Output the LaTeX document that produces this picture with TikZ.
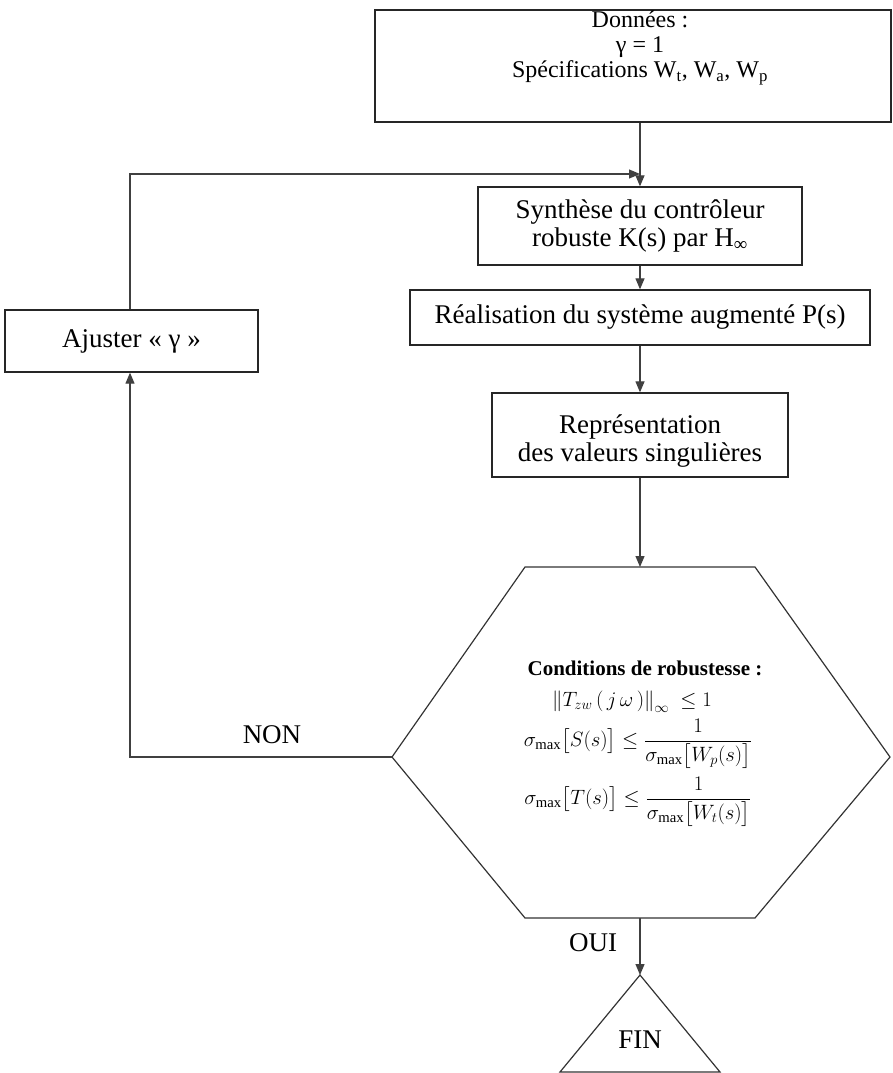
\documentclass[tikz,border=0pt]{standalone}
\usepackage{fontspec}
\setmainfont{Liberation Serif}
\usepackage{amsmath}
\usetikzlibrary{arrows.meta}
\newcommand\mainsize{\fontsize{27}{28}\selectfont}
\newcommand\topsize{\fontsize{24}{25}\selectfont}
\newcommand\condsize{\fontsize{21}{24}\selectfont}
\begin{document}
\begin{tikzpicture}[x=1pt,y=-1pt,
  box/.style={draw=black!85, line width=1.3pt, inner sep=0pt, align=center, font=\mainsize},
  lbl/.style={font=\mainsize, inner sep=0pt},
  ln/.style={draw=black!75, line width=1.2pt},
  arr/.style={ln, -{Triangle[length=11pt,width=9pt]}},
  shp/.style={draw=black!80, line width=1.2pt, line join=miter}]
\useasboundingbox (0,0) rectangle (893,1073);
\coordinate (col) at (640,0);
% boxes
\node[box, line width=1.6pt, minimum width=516pt, minimum height=112pt] (don) at (633,66) {};
\node[lbl, align=center, font=\topsize] (dontxt) at (640,48)
  {Données :\\ γ = 1\\ Spécifications W\textsubscript{t}, W\textsubscript{a}, W\textsubscript{p}};
\node[box, minimum width=324pt, minimum height=78pt] (syn) at (640,226)
  {Synthèse du contrôleur\\ robuste K(s) par H\textsubscript{∞}};
\node[box, minimum width=460pt, minimum height=55pt] (rea) at (640,317.5)
  {Réalisation du système augmenté P(s)};
\node[box, minimum width=296pt, minimum height=84pt] (rep) at (640,435) {};
\node[lbl, align=center] (reptxt) at (640,441)
  {Représentation\\ des valeurs singulières};
\node[box, minimum width=253pt, minimum height=62pt] (adj) at (131.5,341)
  {Ajuster « γ »};
% hexagon
\coordinate (h1) at (525,567);
\coordinate (h2) at (755,567);
\coordinate (h3) at (890,757);
\coordinate (h4) at (755,918);
\coordinate (h5) at (525,918);
\coordinate (h6) at (392,757);
\draw[shp] (h1) -- (h2) -- (h3) -- (h4) -- (h5) -- (h6) -- cycle;
\node[font=\condsize\bfseries, inner sep=0pt] (c0) at (645,668) {Conditions de robustesse :};
\node[font=\condsize, inner sep=0pt] (c1) at (632,702) {$\left\| T_{zw}\,(\,j\,\omega\,)\right\|_{\infty}\ \le 1$};
\node[font=\condsize, inner sep=0pt] (c2) at (638,744) {$\sigma_{\max}\bigl[S(s)\bigr]\le\dfrac{1}{\sigma_{\max}\bigl[W_p(s)\bigr]}$};
\node[font=\condsize, inner sep=0pt] (c3) at (638,802) {$\sigma_{\max}\bigl[T(s)\bigr]\le\dfrac{1}{\sigma_{\max}\bigl[W_t(s)\bigr]}$};
% FIN triangle
\coordinate (t1) at (640,975);
\coordinate (t2) at (720,1072);
\coordinate (t3) at (560,1072);
\draw[shp] (t1) -- (t2) -- (t3) -- cycle;
\node[lbl] (fin) at (640,1040) {FIN};
% connectors
\coordinate (fb) at (640,174);
\coordinate (fbl) at (130,174);
\coordinate (nonc) at (130,757);
\draw[ln] (don.south -| col) -- (fb);
\draw[arr] (fb) -- (syn.north -| col);
\draw[arr] (adj.north -| fbl) -- (fbl) -- (fb);
\draw[arr] (syn.south -| col) -- (rea.north -| col);
\draw[arr] (rea.south -| col) -- (rep.north -| col);
\draw[arr] (rep.south -| col) -- (h1 -| col);
\draw[arr] (h6) -- (nonc) -- (adj.south -| nonc);
\draw[arr] (h5 -| col) -- (t1);
\node[lbl] (non) at (272,735) {NON};
\node[lbl] (oui) at (593,943) {OUI};
\end{tikzpicture}
\end{document}
